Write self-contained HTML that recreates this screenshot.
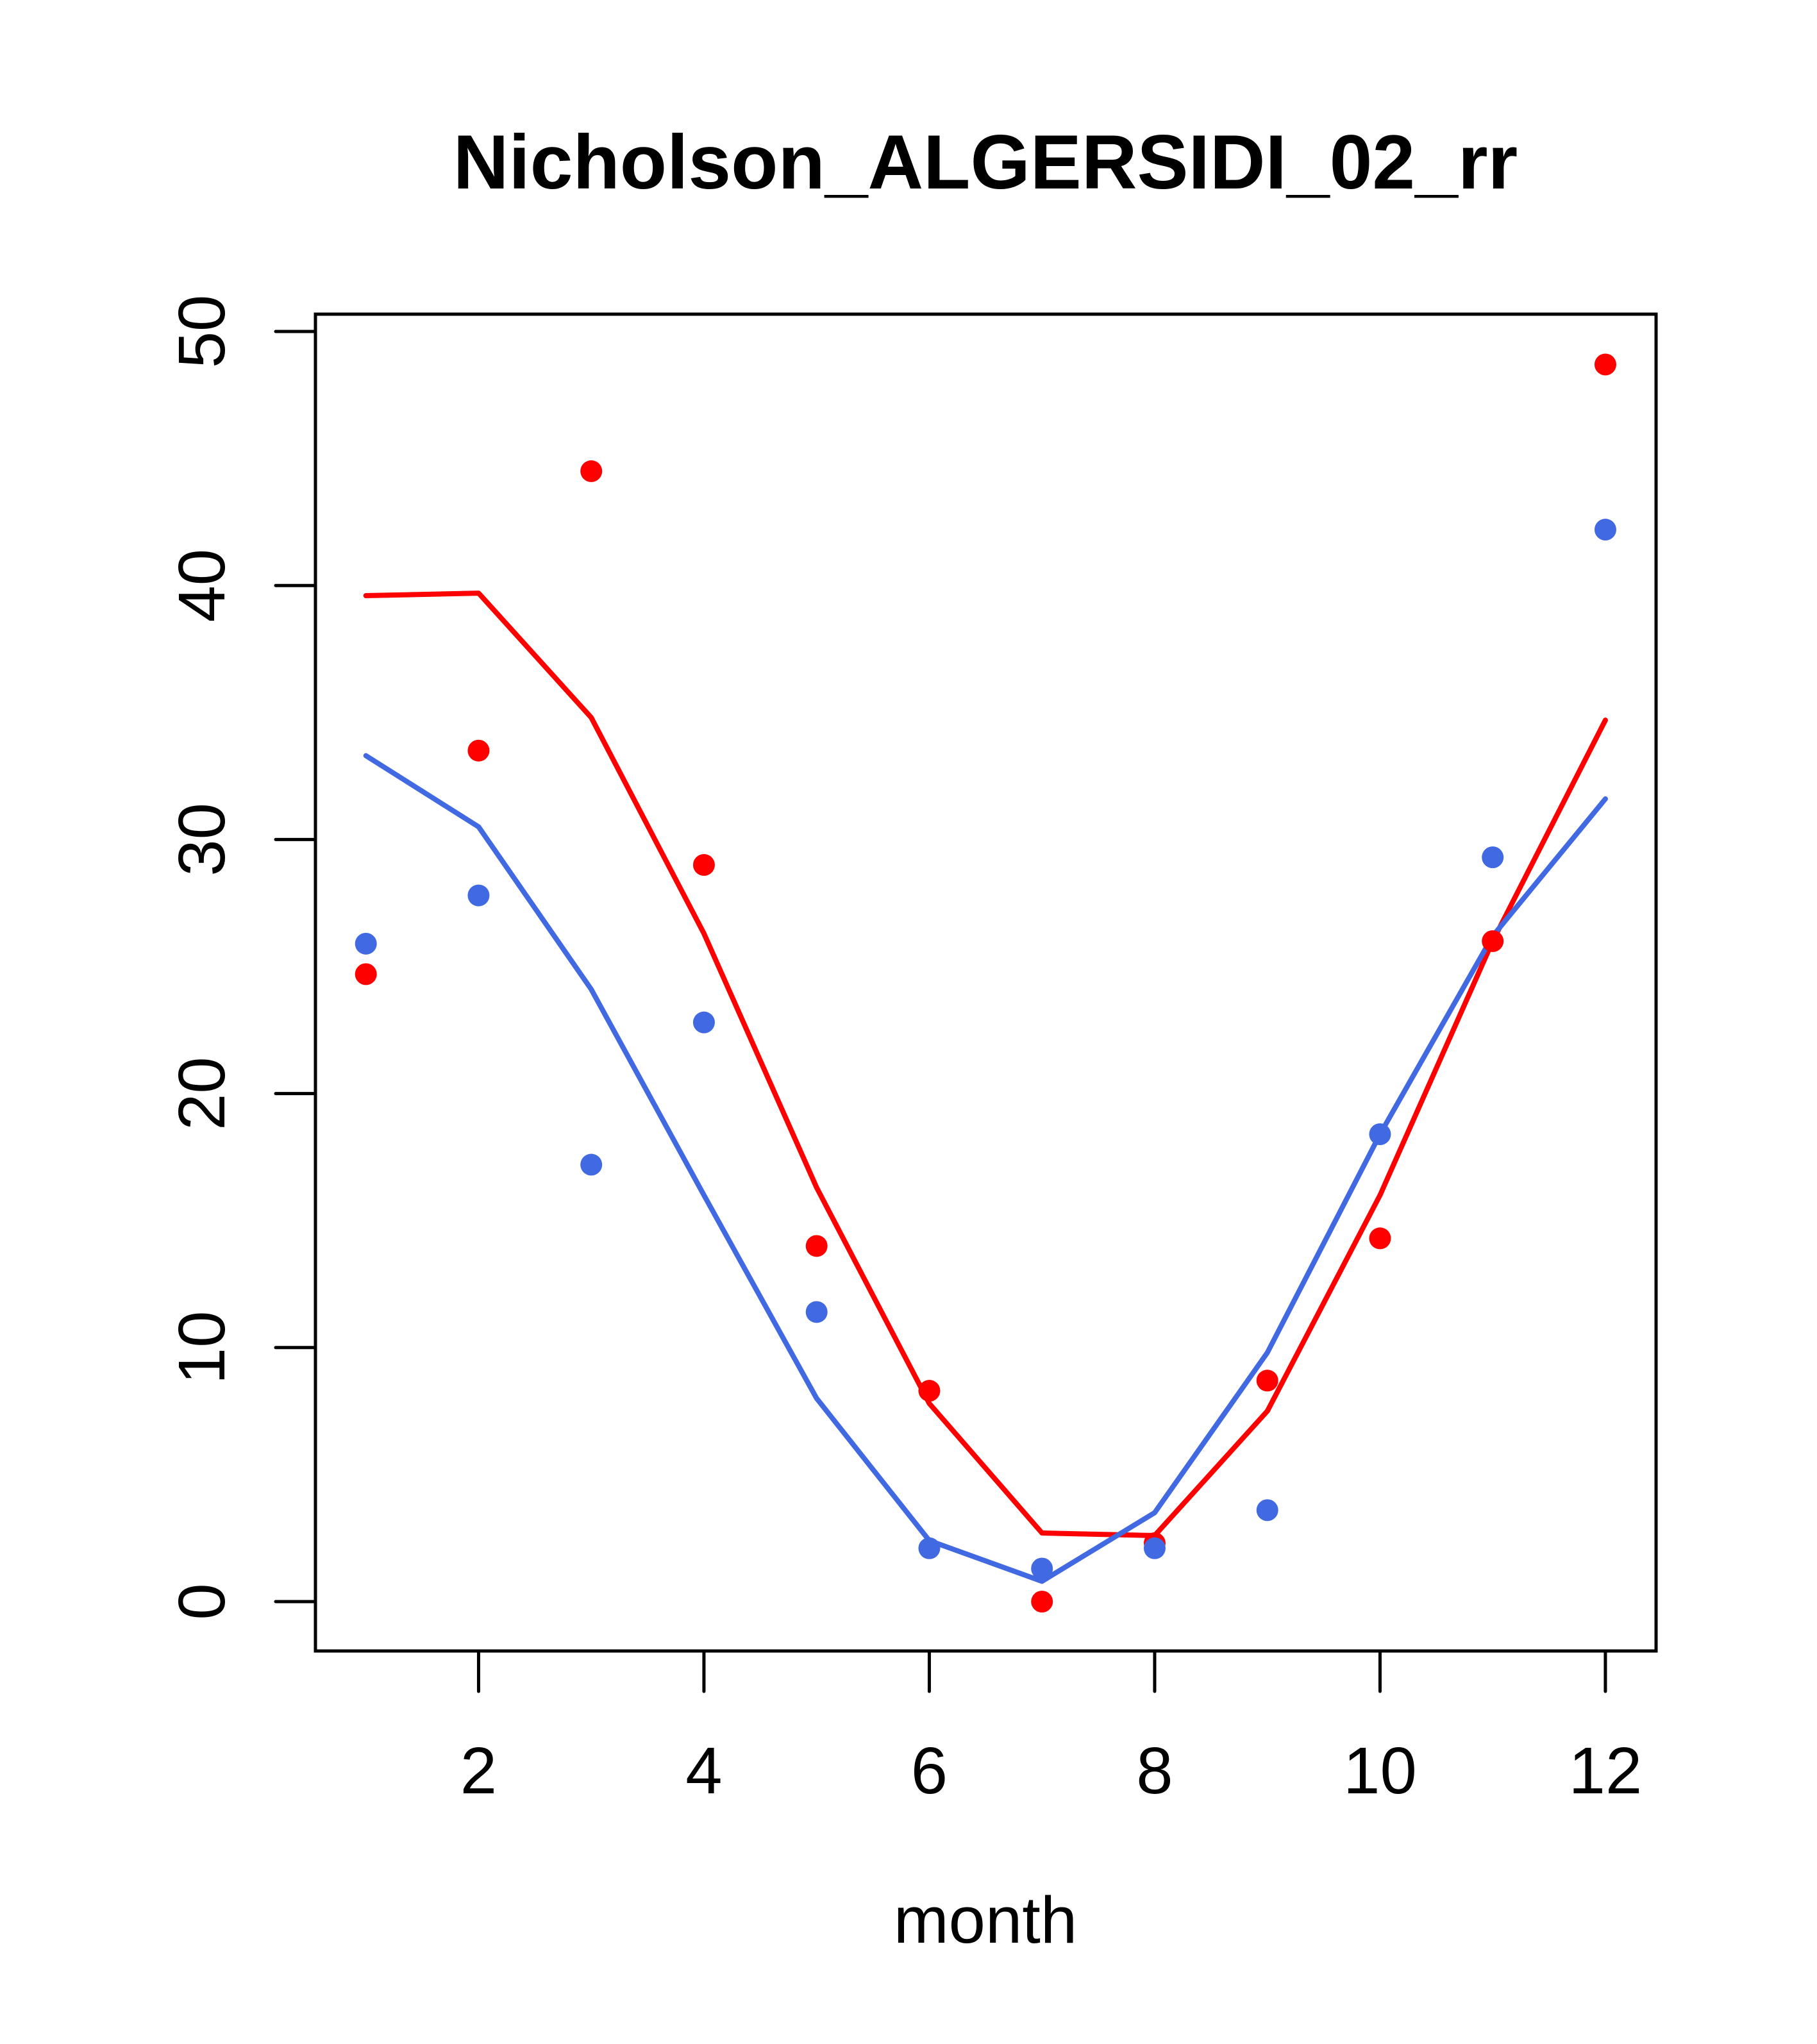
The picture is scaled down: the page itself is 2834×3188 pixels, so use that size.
<!DOCTYPE html>
<html><head><meta charset="utf-8"><style>body{margin:0;background:#fff}svg{display:block}</style></head>
<body>
<svg id="chart" width="2834" height="3188" xmlns="http://www.w3.org/2000/svg" font-family="'Liberation Sans', sans-serif">
<rect width="2834" height="3188" fill="#fff"/>
<text x="1537" y="294" font-size="120" font-weight="bold" text-anchor="middle">Nicholson_ALGERSIDI_02_rr</text>
<text x="1537" y="3030" font-size="103" text-anchor="middle">month</text>
<rect x="492" y="490" width="2091" height="2085" fill="none" stroke="#000" stroke-width="5"/>
<g id="axes"></g>
<g id="series"></g>
</svg>
<script>
const months = [1,2,3,4,5,6,7,8,9,10,11,12];
const redPoints = [24.7,33.5,44.5,29.0,14.0,8.3,0,2.3,8.7,14.3,26.0,48.7];
const bluePoints = [25.9,27.8,17.2,22.8,11.4,2.1,1.3,2.1,3.6,18.4,29.3,42.2];
const redLine = [39.6,39.7,34.8,26.3,16.3,7.8,2.7,2.6,7.5,16.0,26.0,34.7];
const blueLine = [33.3,30.5,24.1,16.0,8.0,2.4,0.8,3.5,9.8,18.4,26.2,31.6];
const xTicks = [2,4,6,8,10,12];
const yTicks = [0,10,20,30,40,50];

const NS = 'http://www.w3.org/2000/svg';
const xs = v => 570.7 + (v - 1) * 175.75;
const ys = v => 2498 - v * 39.62;
function mk(tag, attrs, parent) {
  const e = document.createElementNS(NS, tag);
  for (const k in attrs) e.setAttribute(k, attrs[k]);
  parent.appendChild(e);
  return e;
}
const axes = document.getElementById('axes');
const series = document.getElementById('series');
xTicks.forEach(t => {
  const l = mk('line', {x1: xs(t), x2: xs(t), y1: 2575, y2: 2638, stroke: '#000', 'stroke-width': 5, 'stroke-linecap': 'round'}, axes);
  
  
  const tx = mk('text', {x: xs(t), y: 2797, 'font-size': 103, 'text-anchor': 'middle'}, axes);
  tx.textContent = t;
  
  
});
yTicks.forEach(t => {
  const l = mk('line', {x1: 430, x2: 492, y1: ys(t), y2: ys(t), stroke: '#000', 'stroke-width': 5, 'stroke-linecap': 'round'}, axes);
  
  
  const tx = mk('text', {x: 0, y: 0, 'font-size': 103, 'text-anchor': 'middle', transform: `translate(350,${ys(t)}) rotate(-90)`}, axes);
  tx.textContent = t;
  
  
});
function line(vals, color, name) {
  const p = mk('polyline', {points: vals.map((v,i) => xs(months[i]) + ',' + ys(v)).join(' '), fill: 'none', stroke: color, 'stroke-width': 8, 'stroke-linejoin': 'round', 'stroke-linecap': 'round'}, series);
  
  
}
function pts(vals, color, name) {
  vals.forEach((v,i) => {
    const c = mk('circle', {cx: xs(months[i]), cy: ys(v), r: 17, fill: color}, series);
    
    
  });
}
line(redLine, '#ff0000', 'red-line');
line(blueLine, '#4169e1', 'blue-line');
pts(redPoints, '#ff0000', 'red-point');
pts(bluePoints, '#4169e1', 'blue-point');
</script>
</body></html>
